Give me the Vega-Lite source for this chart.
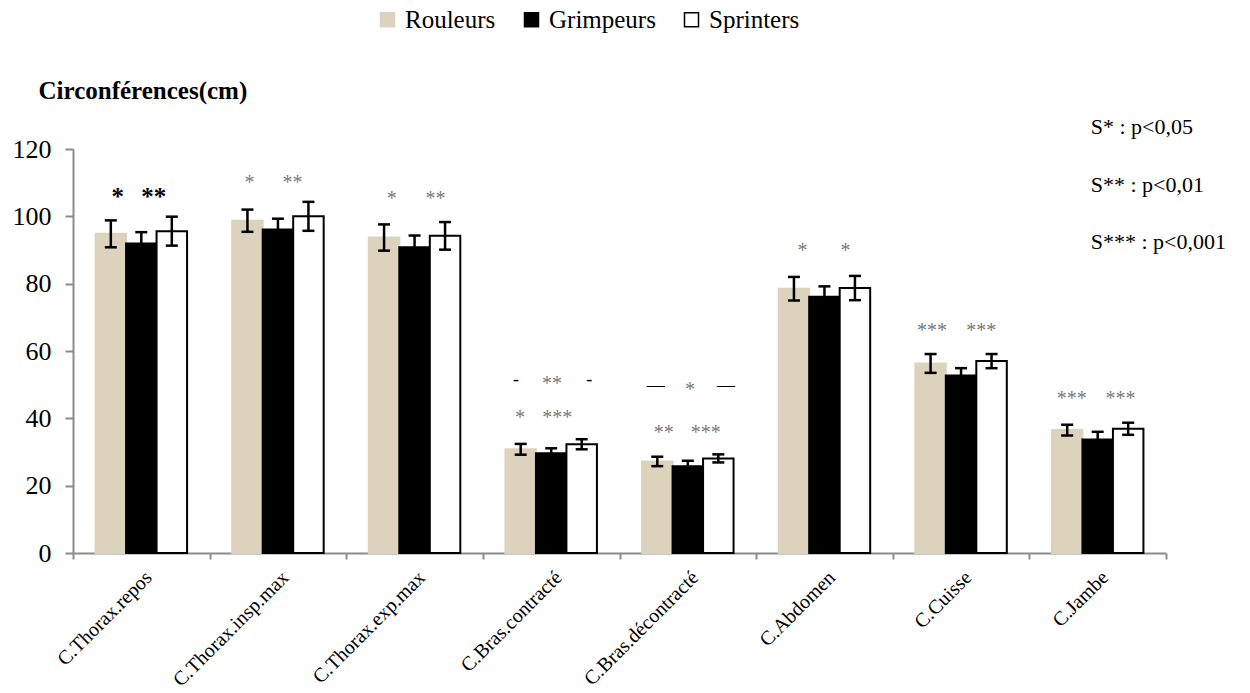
{
  "$schema": "https://vega.github.io/schema/vega-lite/v6.json",
  "width": 1093,
  "height": 404,
  "autosize": "none",
  "padding": {"left": 73, "top": 149, "right": 84, "bottom": 140},
  "background": "white",
  "config": {"view": {"stroke": null}, "font": "Liberation Serif"},
  "datasets": {
    "bars": [
      {"cat": "C.Thorax.repos", "group": "Rouleurs", "mean": 94.8, "lo": 90.8, "hi": 98.8},
      {"cat": "C.Thorax.repos", "group": "Grimpeurs", "mean": 91.9, "lo": 88.5, "hi": 95.3},
      {"cat": "C.Thorax.repos", "group": "Sprinters", "mean": 95.6, "lo": 91.3, "hi": 99.9},
      {"cat": "C.Thorax.insp.max", "group": "Rouleurs", "mean": 98.7, "lo": 95.4, "hi": 102.0},
      {"cat": "C.Thorax.insp.max", "group": "Grimpeurs", "mean": 96.1, "lo": 92.9, "hi": 99.3},
      {"cat": "C.Thorax.insp.max", "group": "Sprinters", "mean": 100.0, "lo": 95.7, "hi": 104.3},
      {"cat": "C.Thorax.exp.max", "group": "Rouleurs", "mean": 93.7, "lo": 89.8, "hi": 97.6},
      {"cat": "C.Thorax.exp.max", "group": "Grimpeurs", "mean": 90.8, "lo": 87.3, "hi": 94.3},
      {"cat": "C.Thorax.exp.max", "group": "Sprinters", "mean": 94.2, "lo": 90.1, "hi": 98.3},
      {"cat": "C.Bras.contracté", "group": "Rouleurs", "mean": 30.8, "lo": 29.2, "hi": 32.4},
      {"cat": "C.Bras.contracté", "group": "Grimpeurs", "mean": 29.6, "lo": 28.1, "hi": 31.1},
      {"cat": "C.Bras.contracté", "group": "Sprinters", "mean": 32.3, "lo": 30.8, "hi": 33.8},
      {"cat": "C.Bras.décontracté", "group": "Rouleurs", "mean": 27.2, "lo": 25.8, "hi": 28.6},
      {"cat": "C.Bras.décontracté", "group": "Grimpeurs", "mean": 25.8, "lo": 24.2, "hi": 27.4},
      {"cat": "C.Bras.décontracté", "group": "Sprinters", "mean": 28.1, "lo": 26.9, "hi": 29.3},
      {"cat": "C.Abdomen", "group": "Rouleurs", "mean": 78.5, "lo": 75.0, "hi": 82.0},
      {"cat": "C.Abdomen", "group": "Grimpeurs", "mean": 76.1, "lo": 73.0, "hi": 79.2},
      {"cat": "C.Abdomen", "group": "Sprinters", "mean": 78.7, "lo": 75.1, "hi": 82.3},
      {"cat": "C.Cuisse", "group": "Rouleurs", "mean": 56.3, "lo": 53.5, "hi": 59.1},
      {"cat": "C.Cuisse", "group": "Grimpeurs", "mean": 52.7, "lo": 50.5, "hi": 54.9},
      {"cat": "C.Cuisse", "group": "Sprinters", "mean": 57.0, "lo": 54.9, "hi": 59.1},
      {"cat": "C.Jambe", "group": "Rouleurs", "mean": 36.5, "lo": 34.9, "hi": 38.1},
      {"cat": "C.Jambe", "group": "Grimpeurs", "mean": 33.7, "lo": 31.4, "hi": 36.0},
      {"cat": "C.Jambe", "group": "Sprinters", "mean": 36.9, "lo": 35.1, "hi": 38.7}
    ],
    "notes": [
      {"cat": "C.Thorax.repos", "off": -0.77, "y": 106.8, "label": "*", "kind": "bold"},
      {"cat": "C.Thorax.repos", "off": 0.41, "y": 106.8, "label": "**", "kind": "bold"},
      {"cat": "C.Thorax.insp.max", "off": -0.93, "y": 110.7, "label": "*", "kind": "star"},
      {"cat": "C.Thorax.insp.max", "off": 0.48, "y": 110.7, "label": "**", "kind": "star"},
      {"cat": "C.Thorax.exp.max", "off": -0.75, "y": 106.0, "label": "*", "kind": "star"},
      {"cat": "C.Thorax.exp.max", "off": 0.69, "y": 106.0, "label": "**", "kind": "star"},
      {"cat": "C.Bras.contracté", "off": -1.15, "y": 51.0, "label": "-", "kind": "dash"},
      {"cat": "C.Bras.contracté", "off": 0.03, "y": 51.0, "label": "**", "kind": "star"},
      {"cat": "C.Bras.contracté", "off": 1.25, "y": 51.0, "label": "-", "kind": "dash"},
      {"cat": "C.Bras.contracté", "off": -1.02, "y": 41.0, "label": "*", "kind": "star"},
      {"cat": "C.Bras.contracté", "off": 0.2, "y": 41.0, "label": "***", "kind": "star"},
      {"cat": "C.Bras.décontracté", "off": -1.05, "y": 49.3, "label": "—", "kind": "dash"},
      {"cat": "C.Bras.décontracté", "off": 0.07, "y": 49.3, "label": "*", "kind": "star"},
      {"cat": "C.Bras.décontracté", "off": 1.25, "y": 49.3, "label": "—", "kind": "dash"},
      {"cat": "C.Bras.décontracté", "off": -0.79, "y": 36.5, "label": "**", "kind": "star"},
      {"cat": "C.Bras.décontracté", "off": 0.59, "y": 36.5, "label": "***", "kind": "star"},
      {"cat": "C.Abdomen", "off": -0.72, "y": 90.5, "label": "*", "kind": "star"},
      {"cat": "C.Abdomen", "off": 0.69, "y": 90.5, "label": "*", "kind": "star"},
      {"cat": "C.Cuisse", "off": -0.95, "y": 66.8, "label": "***", "kind": "star"},
      {"cat": "C.Cuisse", "off": 0.66, "y": 66.8, "label": "***", "kind": "star"},
      {"cat": "C.Jambe", "off": -0.85, "y": 46.6, "label": "***", "kind": "star"},
      {"cat": "C.Jambe", "off": 0.75, "y": 46.6, "label": "***", "kind": "star"},
      {"cat": "C.Jambe", "off": -0.23, "y": 126.4, "label": "S* : p<0,05", "kind": "key"},
      {"cat": "C.Jambe", "off": -0.23, "y": 109.2, "label": "S** : p<0,01", "kind": "key"},
      {"cat": "C.Jambe", "off": -0.23, "y": 92.3, "label": "S*** : p<0,001", "kind": "key"}
    ]
  },
  "encoding": {
    "x": {
      "field": "cat",
      "type": "nominal",
      "sort": null,
      "scale": {"paddingInner": 0, "paddingOuter": 0},
      "axis": {
        "title": null,
        "tickBand": "extent",
        "labelAngle": -45,
        "labelFontSize": 20,
        "labelFont": "Liberation Serif",
        "labelColor": "black",
        "labelPadding": 8,
        "domainColor": "#8c8c8c",
        "domainWidth": 2,
        "tickColor": "#8c8c8c",
        "tickWidth": 2,
        "tickSize": 6
      }
    }
  },
  "layer": [
    {
      "data": {"name": "bars"},
      "mark": {"type": "bar", "strokeWidth": 2},
      "encoding": {
        "xOffset": {
          "field": "group",
          "type": "nominal",
          "sort": ["Rouleurs", "Grimpeurs", "Sprinters"],
          "scale": {"domain": ["Rouleurs", "Grimpeurs", "Sprinters"], "paddingInner": 0, "paddingOuter": 0.74}
        },
        "y": {
          "field": "mean",
          "type": "quantitative",
          "scale": {"domain": [0, 120], "nice": false},
          "axis": {
            "title": "Circonférences(cm)",
            "titleAngle": 0,
            "titleAlign": "left",
            "titleBaseline": "alphabetic",
            "titleX": -35,
            "titleY": -51,
            "titleFont": "Liberation Serif",
            "titleFontSize": 25,
            "titleFontWeight": "bold",
            "titleColor": "black",
            "values": [0, 20, 40, 60, 80, 100, 120],
            "grid": false,
            "labelFontSize": 26,
            "labelFont": "Liberation Serif",
            "labelColor": "black",
            "labelPadding": 14,
            "domainColor": "#8c8c8c",
            "domainWidth": 2,
            "tickColor": "#8c8c8c",
            "tickWidth": 2,
            "tickSize": 8
          }
        },
        "fill": {
          "field": "group",
          "type": "nominal",
          "sort": ["Rouleurs", "Grimpeurs", "Sprinters"],
          "scale": {"domain": ["Rouleurs", "Grimpeurs", "Sprinters"], "range": ["#ddd3bd", "#000000", "#ffffff"]},
          "legend": {
            "title": null,
            "orient": "none",
            "direction": "horizontal",
            "legendX": 302,
            "legendY": -142,
            "symbolType": "square",
            "symbolSize": 196,
            "symbolStrokeWidth": 1.5,
            "labelFont": "Liberation Serif",
            "labelFontSize": 25,
            "labelColor": "black",
            "labelOffset": 5,
            "columnPadding": 23
          }
        },
        "stroke": {
          "field": "group",
          "type": "nominal",
          "sort": ["Rouleurs", "Grimpeurs", "Sprinters"],
          "scale": {"domain": ["Rouleurs", "Grimpeurs", "Sprinters"], "range": ["#ddd3bd", "#000000", "#000000"]},
          "legend": {
            "title": null,
            "orient": "none",
            "direction": "horizontal",
            "legendX": 302,
            "legendY": -142,
            "symbolType": "square",
            "symbolSize": 196,
            "symbolStrokeWidth": 1.5,
            "labelFont": "Liberation Serif",
            "labelFontSize": 25,
            "labelColor": "black",
            "labelOffset": 5,
            "columnPadding": 23
          }
        }
      }
    },
    {
      "data": {"name": "bars"},
      "mark": {"type": "rule", "color": "black", "strokeWidth": 2.5},
      "encoding": {
        "xOffset": {"field": "group", "type": "nominal", "sort": ["Rouleurs", "Grimpeurs", "Sprinters"], "scale": {"domain": ["Rouleurs", "Grimpeurs", "Sprinters"], "paddingInner": 0, "paddingOuter": 0.74}},
        "y": {"field": "lo", "type": "quantitative"},
        "y2": {"field": "hi"}
      }
    },
    {
      "data": {"name": "bars"},
      "mark": {"type": "tick", "color": "black", "size": 12, "thickness": 2.5, "opacity": 1},
      "encoding": {
        "xOffset": {"field": "group", "type": "nominal", "sort": ["Rouleurs", "Grimpeurs", "Sprinters"], "scale": {"domain": ["Rouleurs", "Grimpeurs", "Sprinters"], "paddingInner": 0, "paddingOuter": 0.74}},
        "y": {"field": "hi", "type": "quantitative"}
      }
    },
    {
      "data": {"name": "bars"},
      "mark": {"type": "tick", "color": "black", "size": 12, "thickness": 2.5, "opacity": 1},
      "encoding": {
        "xOffset": {"field": "group", "type": "nominal", "sort": ["Rouleurs", "Grimpeurs", "Sprinters"], "scale": {"domain": ["Rouleurs", "Grimpeurs", "Sprinters"], "paddingInner": 0, "paddingOuter": 0.74}},
        "y": {"field": "lo", "type": "quantitative"}
      }
    },
    {
      "layer": [
        {
          "transform": [{"filter": "datum.kind == 'star'"}],
          "mark": {"type": "text", "font": "Liberation Serif", "fontSize": 20, "color": "#7a7a7a", "baseline": "alphabetic", "dy": 9},
          "encoding": {"text": {"field": "label"}}
        },
        {
          "transform": [{"filter": "datum.kind == 'bold'"}],
          "mark": {"type": "text", "font": "Liberation Serif", "fontSize": 25, "fontWeight": "bold", "color": "black", "baseline": "alphabetic", "dy": 12},
          "encoding": {"text": {"field": "label"}}
        },
        {
          "transform": [{"filter": "datum.kind == 'dash'"}],
          "mark": {"type": "text", "font": "Liberation Serif", "fontSize": 18, "color": "black", "baseline": "alphabetic", "dy": 4},
          "encoding": {"text": {"field": "label"}}
        },
        {
          "transform": [{"filter": "datum.kind == 'key'"}],
          "mark": {"type": "text", "font": "Liberation Serif", "fontSize": 22, "color": "black", "align": "left", "baseline": "middle"},
          "encoding": {"text": {"field": "label"}}
        }
      ],
      "data": {"name": "notes"},
      "encoding": {
        "xOffset": {"field": "off", "type": "quantitative", "scale": {"domain": [-2.24, 2.24], "nice": false, "zero": false}},
        "y": {"field": "y", "type": "quantitative"}
      }
    }
  ],
  "resolve": {"scale": {"xOffset": "independent"}}
}
